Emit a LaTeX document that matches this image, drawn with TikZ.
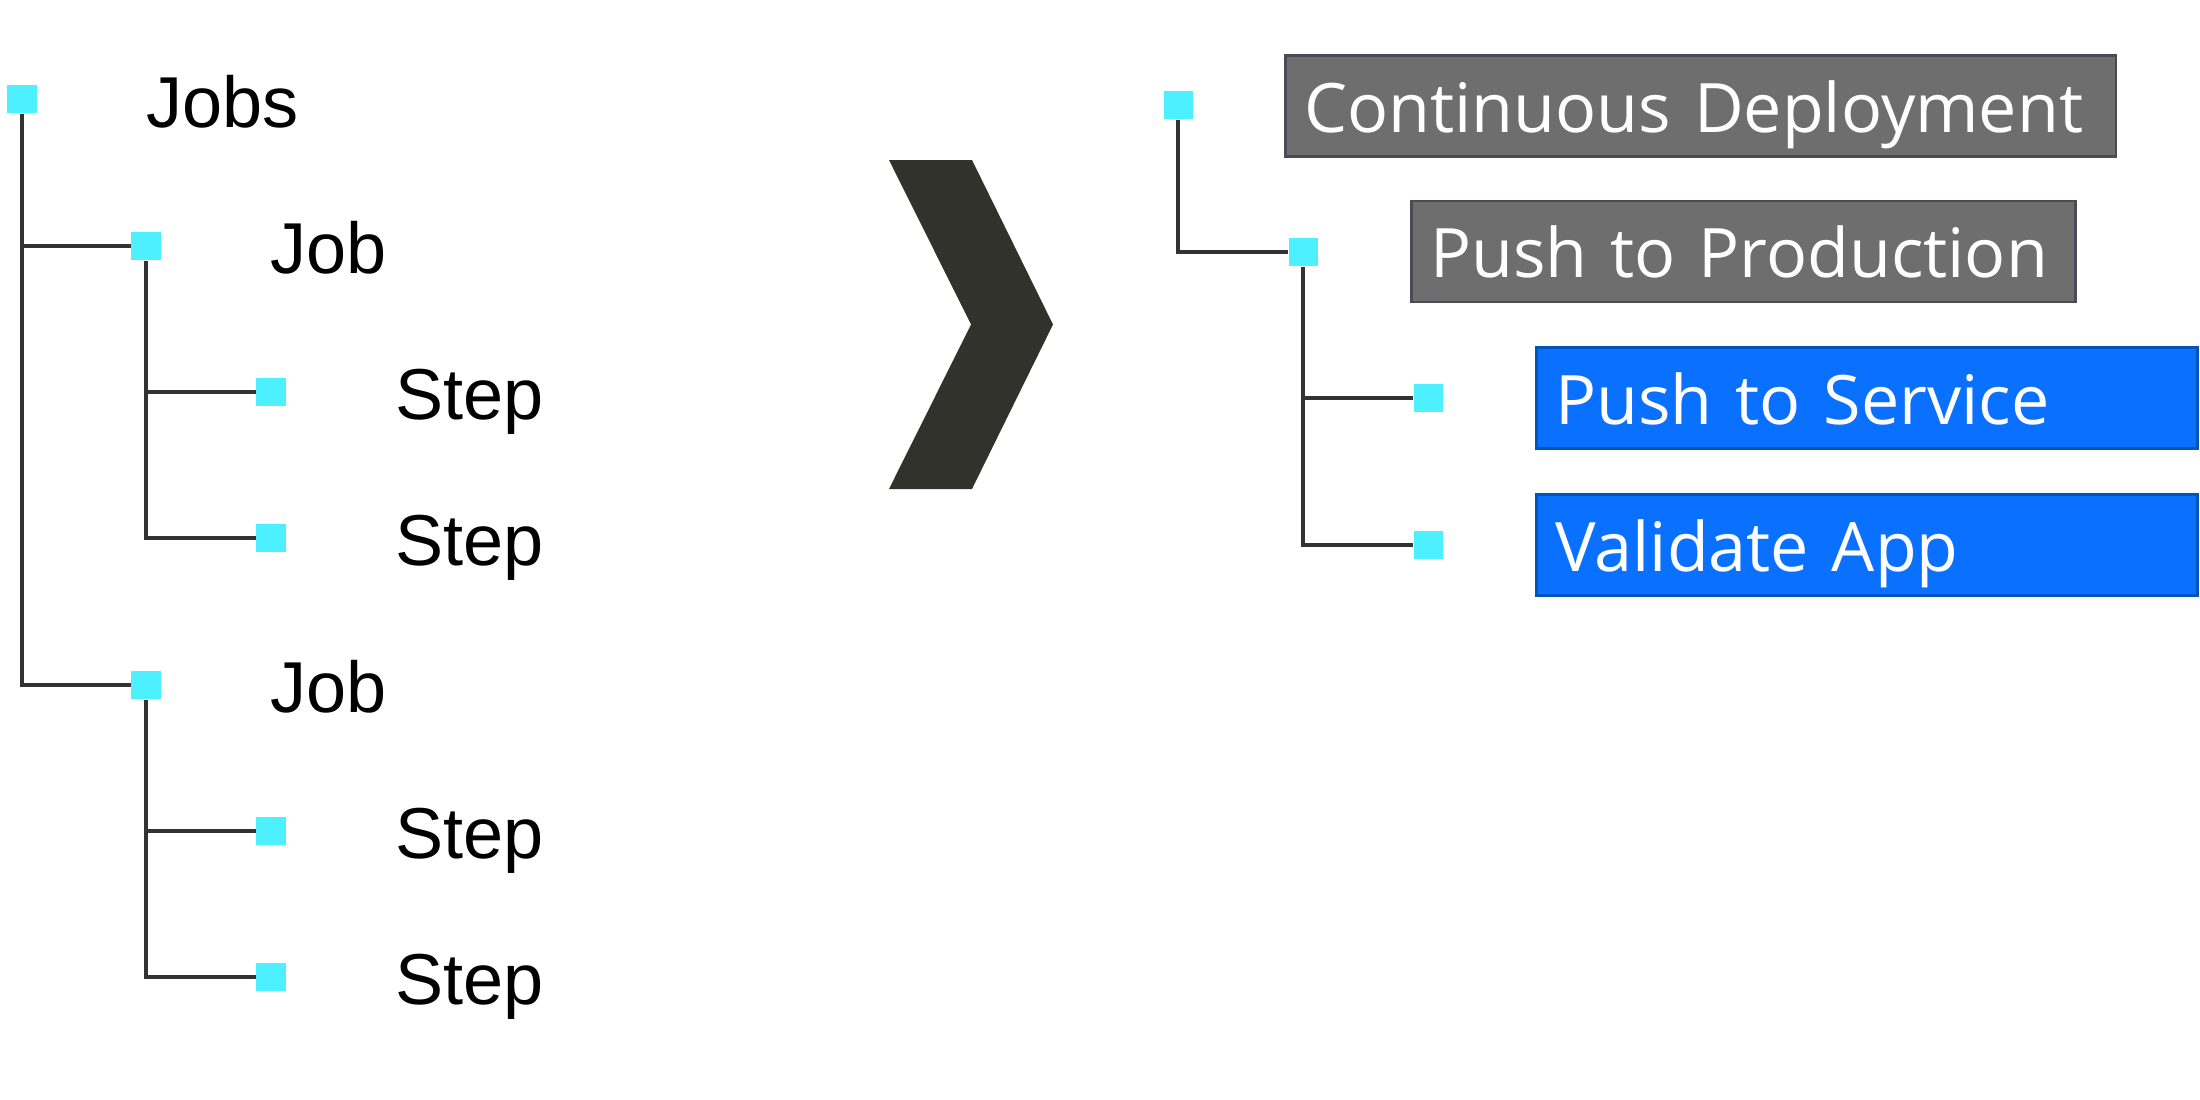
\documentclass[tikz,border=0pt]{standalone}
\usepackage{fontspec}
\setmainfont{Liberation Sans}
\newfontfamily\boxfont{Open Sans}
\definecolor{sqcyan}{RGB}{77,240,255}
\definecolor{linegray}{RGB}{51,51,51}
\definecolor{chevcol}{RGB}{50,50,44}
\definecolor{gfill}{RGB}{110,110,110}
\definecolor{gborder}{RGB}{75,75,87}
\definecolor{bfill}{RGB}{10,112,255}
\definecolor{bborder}{RGB}{0,84,186}
\begin{document}
\begin{tikzpicture}[x=0.01cm,y=-0.01cm,
  sq/.style={fill=sqcyan, inner sep=0pt, minimum width=0.29cm, minimum height=0.28cm},
  conn/.style={draw=linegray, line width=1pt},
  lbl/.style={anchor=base west, inner sep=0pt, font=\fontsize{20.5}{24}\selectfont},
  tbox/.style={anchor=west, inner xsep=0.19cm, inner ysep=0pt, line width=0.8pt,
    text height=0.765cm, text depth=0.245cm, align=left, text=white,
    font=\boxfont\fontsize{19.4}{23}\selectfont},
  gbox/.style={tbox, fill=gfill, draw=gborder},
  bbox/.style={tbox, fill=bfill, draw=bborder}]
\useasboundingbox (0,0) rectangle (2200,1100);
% left tree
\node[sq] (s0) at (22,99) {};
\node[sq] (s1) at (146,246) {};
\node[sq] (s2) at (271,392) {};
\node[sq] (s3) at (271,538) {};
\node[sq] (s4) at (146,685) {};
\node[sq] (s5) at (271,831) {};
\node[sq] (s6) at (271,977) {};
\node[lbl] (t0) at (146,127) {Jobs};
\node[lbl] (t1) at (270,273.5) {Job};
\node[lbl] (t2) at (395,419.5) {Step};
\node[lbl] (t3) at (395,565.5) {Step};
\node[lbl] (t4) at (270,712.5) {Job};
\node[lbl] (t5) at (395,858.5) {Step};
\node[lbl] (t6) at (395,1004.5) {Step};
\draw[conn] (s0.south) |- (s4.west);
\draw[conn] (s0.south |- s1.west) -- (s1.west);
\draw[conn] (s1.south) |- (s3.west);
\draw[conn] (s1.south |- s2.west) -- (s2.west);
\draw[conn] (s4.south) |- (s6.west);
\draw[conn] (s4.south |- s5.west) -- (s5.west);
% chevron
\fill[chevcol] (889,160) -- (972,160) -- (1053,324.5) -- (972,489) -- (889,489) -- (971,324.5) -- cycle;
% right tree
\node[sq] (r0) at (1178,105) {};
\node[sq] (r1) at (1303,252) {};
\node[sq] (r2) at (1428,398) {};
\node[sq] (r3) at (1428,545) {};
\node[gbox, text width=7.92cm] (b0) at (1284,106) {\mbox{Continuous Deployment}};
\node[gbox, text width=6.26cm] (b1) at (1410,251.5) {\mbox{Push to Production}};
\node[bbox, text width=6.23cm] (b2) at (1535,398) {\mbox{Push to Service}};
\node[bbox, text width=6.23cm] (b3) at (1535,545) {\mbox{Validate App}};
\draw[conn] (r0.south) |- (r1.west);
\draw[conn] (r1.south) |- (r3.west);
\draw[conn] (r1.south |- r2.west) -- (r2.west);
\end{tikzpicture}
\end{document}
